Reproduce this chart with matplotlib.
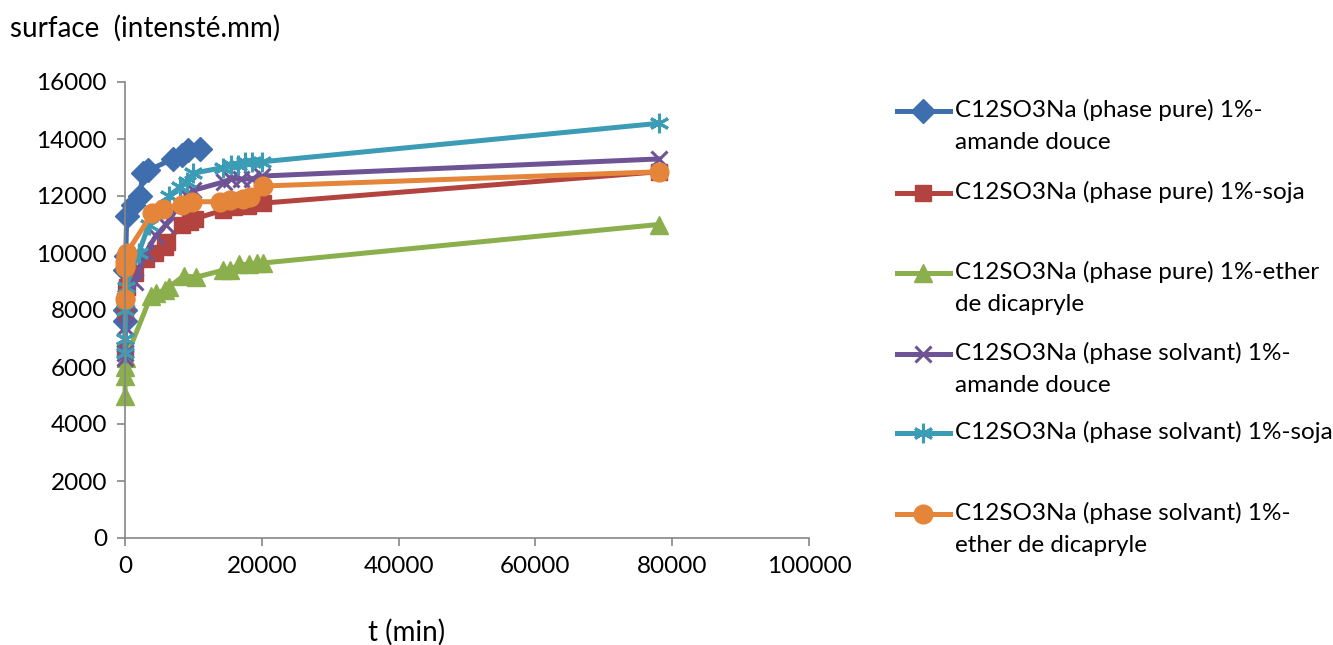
import matplotlib
matplotlib.use("Agg")
import matplotlib.pyplot as plt
from matplotlib.lines import Line2D

plt.rcParams['font.family'] = ['Lato', 'DejaVu Sans']

# Surfactant adsorption kinetics: surface (intensity.mm) vs time (min)
labels = [
    "C12SO3Na (phase pure) 1%-\namande douce",
    "C12SO3Na (phase pure) 1%-soja",
    "C12SO3Na (phase pure) 1%-ether\nde dicapryle",
    "C12SO3Na (phase solvant) 1%-\namande douce",
    "C12SO3Na (phase solvant) 1%-soja",
    "C12SO3Na (phase solvant) 1%-\nether de dicapryle",
]

pure_amande_t = [0, 30, 60, 120, 240, 1200, 2200, 2600, 3400, 7000, 8300, 9200, 11000]
pure_amande_v = [7600, 8000, 9400, 9900, 11300, 11700, 12000, 12800, 12900, 13300, 13450, 13600, 13650]

pure_soja_t = [0, 30, 60, 120, 240, 1500, 3000, 4400, 5800, 6200, 8300, 9500, 10200,
               14300, 16000, 18000, 20200, 78000]
pure_soja_v = [6600, 8000, 8300, 8600, 8800, 9300, 9800, 10000, 10200, 10400, 11000, 11100, 11200,
               11500, 11600, 11650, 11750, 12850]

pure_ether_t = [0, 30, 60, 120, 3800, 4600, 5800, 6400, 8600, 10400, 14400, 15400, 16700,
                18200, 19300, 20200, 78000]
pure_ether_v = [5000, 5700, 6000, 6300, 8500, 8600, 8700, 8800, 9200, 9150, 9400, 9400, 9600,
                9600, 9650, 9650, 11000]

solv_amande_t = [0, 30, 60, 120, 1500, 3000, 4500, 6000, 8000, 9000, 10000, 14500, 15500,
                 17000, 18500, 20000, 78000]
solv_amande_v = [6300, 6500, 7400, 7900, 9000, 10000, 10600, 11000, 11700, 12000, 12200, 12500, 12600,
                 12600, 12600, 12700, 13300]

solv_soja_t = [0, 30, 60, 120, 2000, 3500, 5000, 6500, 8000, 9000, 10000, 14400, 15500,
               16500, 17500, 18500, 20000, 78000]
solv_soja_v = [6500, 7000, 8000, 8800, 10000, 11000, 11500, 12000, 12300, 12500, 12800, 13000, 13100,
               13100, 13200, 13200, 13200, 14550]

solv_ether_t = [0, 30, 60, 120, 240, 4000, 5500, 8300, 9800, 13900, 15400, 17300, 18300, 20200, 78000]
solv_ether_v = [8400, 9500, 9700, 9900, 10000, 11400, 11550, 11700, 11800, 11800, 11850, 11900, 11950,
                12350, 12850]

series = [
    (pure_amande_t, pure_amande_v),
    (pure_soja_t, pure_soja_v),
    (pure_ether_t, pure_ether_v),
    (solv_amande_t, solv_amande_v),
    (solv_soja_t, solv_soja_v),
    (solv_ether_t, solv_ether_v),
]

colors = ["#3F6EAE", "#B3433F", "#8CAF4E", "#6E5494", "#3C9CB5", "#E5853A"]
markers = ["D", "s", "^", "x", (6, 2, 0), "o"]
msizes = [12, 12, 13, 12, 14, 13.5]
mew = [1, 1, 1, 2.2, 2.2, 1]
LW = 3.6

W, H = 1333, 645
fig = plt.figure(figsize=(W / 100, H / 100), dpi=100)
ax = fig.add_axes([125 / W, 1 - 538 / H, (809 - 125) / W, (538 - 82) / H])

for (t, v), c, m, ms, mw in zip(series, colors, markers, msizes, mew):
    ax.plot(t, v, color=c, lw=LW, marker=m, ms=ms, mec=c, mfc=c, mew=mw,
            solid_joinstyle="round", clip_on=False)

ax.set_xlim(0, 100000)
ax.set_ylim(0, 16000)
ax.set_xticks(range(0, 100001, 20000))
ax.set_yticks(range(0, 16001, 2000))
for s in ["top", "right"]:
    ax.spines[s].set_visible(False)
for s in ["left", "bottom"]:
    ax.spines[s].set_color("#868686")
    ax.spines[s].set_linewidth(1.2)
ax.tick_params(direction="out", length=6, width=1.2, color="#868686",
               labelsize=17.5, labelcolor="black", pad=7)

fig.text(10 / W, 1 - 28 / H, "surface  (intensté.mm)", fontsize=20,
         ha="left", va="center")
fig.text(407 / W, 1 - 632 / H, "t (min)", fontsize=20, ha="center", va="center")

# Legend drawn entry by entry, handle aligned with the first text line
entry_y = [111, 193, 273, 354, 433, 514]
for lab, c, m, ms, mw, y in zip(labels, colors, markers, msizes, mew, entry_y):
    yf = 1 - y / H
    fig.add_artist(Line2D([897 / W, 950 / W], [yf, yf], color=c, lw=LW,
                          transform=fig.transFigure))
    fig.add_artist(Line2D([923.5 / W], [yf], color=c, marker=m, ms=ms, mec=c,
                          mfc=c, mew=mw, transform=fig.transFigure))
    fig.text(955 / W, yf + 12 / H, lab, fontsize=17.5, ha="left", va="top",
             linespacing=1.62, transform=fig.transFigure)

fig.savefig("out.png", dpi=100)
